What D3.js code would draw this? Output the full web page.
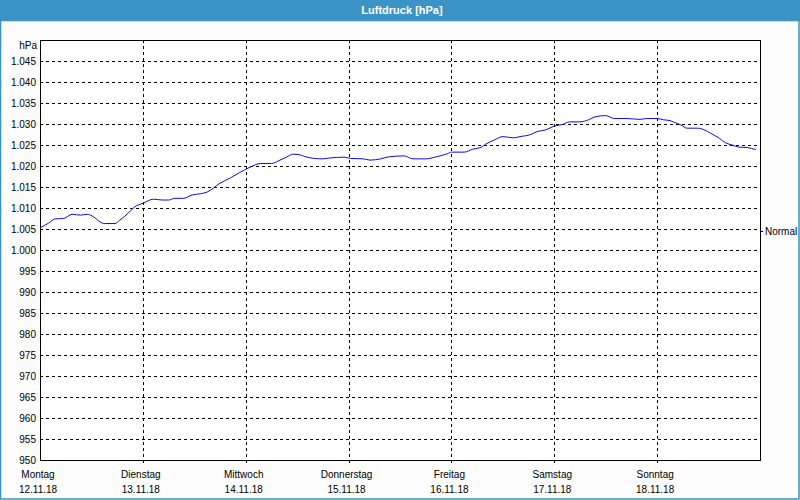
<!DOCTYPE html>
<html><head><meta charset="utf-8">
<script src="https://cdn.jsdelivr.net/npm/d3@7"></script>
<style>
html,body{margin:0;padding:0;background:#fcfdfc;}
svg{display:block;}
text{font-family:"Liberation Sans",Arial,sans-serif;}
</style></head>
<body>
<svg id="c" width="800" height="500"></svg>
<script>
const title = "Luftdruck [hPa]";
const unitLabel = "hPa";
const dayNames = ["Montag","Dienstag","Mittwoch","Donnerstag","Freitag","Samstag","Sonntag"];
const dayDates = ["12.11.18","13.11.18","14.11.18","15.11.18","16.11.18","17.11.18","18.11.18"];
const yTicks = [950,955,960,965,970,975,980,985,990,995,1000,1005,1010,1015,1020,1025,1030,1035,1040,1045];
const normalValue = 1004.5;
// hours since Monday 12.11.18 00:00
const hours = [0,2,3.5,5.5,7.5,9.5,11,12.5,14,15,17.5,18.5,20.5,22,24,26.5,28.5,30,31.5,33.5,35.5,37.5,39,42,44.5,46.5,49,51.5,54,56,57.5,59,60.5,62,64,66,67.5,71,72.5,75.5,77,79.5,81.5,85,87,90,92.5,95,96,99,101,103,104,106,108,110.5,112,114.5,116,118,120,122,123.5,126,128,129.5,132,134,137,140,141.5,144,145.5,147,148,149.5,151,153.5,155,156.5,158.5,160,161.5,163,165,167];
const pressure = [1005.3,1006.4,1007.4,1007.5,1008.5,1008.3,1008.5,1007.9,1006.7,1006.3,1006.3,1007.0,1008.7,1010.2,1011.1,1012.1,1011.9,1011.9,1012.3,1012.3,1013.1,1013.4,1013.8,1015.9,1017.2,1018.4,1019.7,1020.6,1020.6,1021.4,1022.1,1022.8,1022.7,1022.2,1021.8,1021.7,1021.9,1022.1,1021.8,1021.7,1021.4,1021.7,1022.2,1022.4,1021.7,1021.7,1022.2,1022.9,1023.3,1023.3,1024.0,1024.5,1025.2,1026.2,1027.0,1026.7,1027.0,1027.5,1028.2,1028.6,1029.5,1029.9,1030.5,1030.5,1031.0,1031.7,1032.0,1031.3,1031.3,1031.1,1031.3,1031.3,1031.0,1030.8,1030.4,1029.8,1029.0,1029.0,1028.6,1027.8,1026.6,1025.5,1025.0,1024.5,1024.4,1023.9];

const start = new Date(2018,10,12,0,0,0);
const end = new Date(2018,10,19,0,0,0);
const data = hours.map((h,i)=>({t:new Date(start.getTime()+h*3600e3), v:pressure[i]}));
const dayTicks = dayNames.map((d,i)=>new Date(2018,10,12+i));

const svg = d3.select("#c");
const W=800,H=500;
const L=40,R=760,T=40,B=460;
const blue="#3c93c5";

svg.append("rect").attr("x",0).attr("y",0).attr("width",W).attr("height",H).attr("fill","#fcfdfc");
svg.append("rect").attr("x",0).attr("y",0).attr("width",W).attr("height",21).attr("fill",blue);
svg.append("rect").attr("x",0.5).attr("y",20.5).attr("width",W-1.5).attr("height",H-21.5)
  .attr("fill","none").attr("stroke",blue).attr("stroke-width",1.5);
svg.append("text").attr("x",W/2+2).attr("y",10).attr("text-anchor","middle").attr("dominant-baseline","central")
  .attr("fill","#ffffff").attr("font-weight","bold").attr("font-size",11).text(title);

const x = d3.scaleTime().domain([start,end]).range([L,R]);
const y = d3.scaleLinear().domain([950,1050]).range([B,T]);

svg.append("rect").attr("x",L).attr("y",T).attr("width",R-L).attr("height",B-T).attr("fill","#ffffff");

const gy = svg.append("g").attr("shape-rendering","crispEdges");
gy.selectAll("line").data(yTicks.slice(1)).join("line")
  .attr("x1",L).attr("x2",R).attr("y1",d=>Math.round(y(d))+0.5).attr("y2",d=>Math.round(y(d))+0.5)
  .attr("stroke","#000").attr("stroke-dasharray","3,3");
const gx = svg.append("g").attr("shape-rendering","crispEdges");
gx.selectAll("line").data(dayTicks.slice(1)).join("line")
  .attr("x1",d=>Math.round(x(d))+0.5).attr("x2",d=>Math.round(x(d))+0.5).attr("y1",T).attr("y2",B+3)
  .attr("stroke","#000").attr("stroke-dasharray","3,3");

const fmt = v => v>=1000 ? d3.format(",")(v).replace(",",".") : String(v);
const yAxis = d3.axisLeft(y).tickValues(yTicks).tickSize(0).tickPadding(4).tickFormat(fmt);
const ya = svg.append("g").attr("transform",`translate(${L},0)`).call(yAxis);
ya.select(".domain").remove();
ya.selectAll("text").attr("font-size",10).attr("fill","#000").attr("font-family","Liberation Sans, Arial, sans-serif");
svg.append("text").attr("x",L-3).attr("y",T+5).attr("text-anchor","end").attr("dominant-baseline","central")
  .attr("font-size",10).text(unitLabel);

const xa = svg.append("g");
xa.selectAll("text.day").data(dayTicks).join("text").attr("class","day")
  .attr("x",d=>x(d)-2).attr("y",474).attr("text-anchor","middle").attr("dominant-baseline","central")
  .attr("font-size",10).text((d,i)=>dayNames[i]);
xa.selectAll("text.date").data(dayTicks).join("text").attr("class","date")
  .attr("x",d=>x(d)-2).attr("y",489).attr("text-anchor","middle").attr("dominant-baseline","central")
  .attr("font-size",10).text((d,i)=>dayDates[i]);

svg.append("rect").attr("x",L+0.5).attr("y",T+0.5).attr("width",R-L).attr("height",B-T)
  .attr("fill","none").attr("stroke","#000").attr("shape-rendering","crispEdges");

svg.append("line").attr("x1",R).attr("x2",R+3).attr("y1",Math.round(y(normalValue))+0.5).attr("y2",Math.round(y(normalValue))+0.5)
  .attr("stroke","#000").attr("shape-rendering","crispEdges");
svg.append("text").attr("x",R+5).attr("y",y(normalValue)).attr("dominant-baseline","central")
  .attr("font-size",10).text("Normal");

const line = d3.line().x(d=>x(d.t)).y(d=>y(d.v)).curve(d3.curveMonotoneX);
svg.append("path").datum(data).attr("d",line).attr("fill","none").attr("stroke","#0a0ae6").attr("stroke-width",1);
</script>
</body></html>
